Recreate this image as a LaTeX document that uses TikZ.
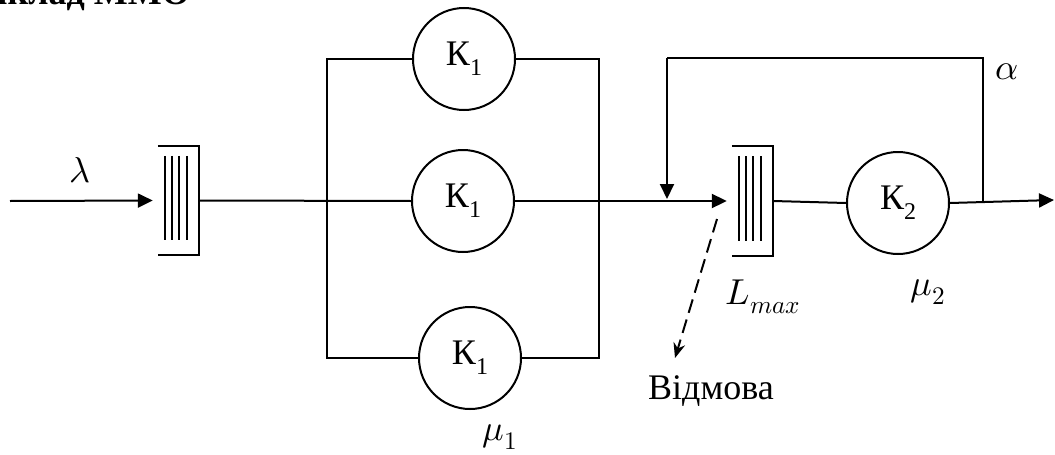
\documentclass[tikz,border=0pt]{standalone}
\usepackage{fontspec}
\usepackage{unicode-math}
\setmainfont{Liberation Serif}
\setmathfont{Latin Modern Math}
\usetikzlibrary{arrows.meta,calc}
\begin{document}
\begin{tikzpicture}[x=1pt,y=-1pt,
  every node/.style={font=\fontsize{36}{40}\selectfont},
  chan/.style={circle,draw,line width=2pt,minimum size=102pt,inner sep=0pt},
  queuebox/.style={minimum width=41pt,minimum height=109pt,inner sep=0pt},
  ln/.style={line width=2pt},
  arr/.style={line width=2pt,-{Triangle[length=15pt,width=14pt]}},
  lbl/.style={inner sep=0pt}]
\useasboundingbox (0,0) rectangle (1055,455);
% title (cut off at the top)
\begin{scope}
\clip (0,0) rectangle (1055,455);
\node[anchor=base east,inner sep=0pt,font=\fontsize{36}{40}\selectfont\bfseries] (title) at (190,5) {Приклад ММО};
\end{scope}
% queues
\node[queuebox] (q1) at (178.5,200.5) {};
\node[queuebox] (q2) at (752.5,201) {};
\foreach \q in {q1,q2}{
  \draw[ln] (\q.north west) -- (\q.north east) -- (\q.south east) -- (\q.south west);
  \foreach \dx in {7.5,14.5,21.5,29}{
    \draw[ln] ($(\q.north west)+(\dx,10)$) -- ($(\q.south west)+(\dx,-15)$);
  }
}
% channels
\node[chan] (k1top) at (464,59) {К\raisebox{-0.28em}{\fontsize{24}{26}\selectfont 1}};
\node[chan] (k1mid) at (463,201) {К\raisebox{-0.28em}{\fontsize{24}{26}\selectfont 1}};
\node[chan] (k1bot) at (470,358) {К\raisebox{-0.28em}{\fontsize{24}{26}\selectfont 1}};
\node[chan] (k2) at (898,203) {К\raisebox{-0.28em}{\fontsize{24}{26}\selectfont 2}};
% coordinates
\coordinate (in1) at (10,201);
\coordinate (rtl) at (327,59);
\coordinate (rbl) at (327,358);
\coordinate (rtr) at (599,59);
\coordinate (rbr) at (599,358);
\coordinate (fbR) at (983,201);
\coordinate (fbT) at (983,58);
\coordinate (fbL) at (667,58);
\coordinate (fbB) at (667,199);
\coordinate (out) at (1054,200);
\coordinate (d1) at (717,219);
\coordinate (d2) at (675,358);
% connectors
\draw[arr,shorten >=5pt] (in1) -- (q1.west);
\draw[ln] (q1.east) -- (k1mid.west);
\draw[arr,shorten >=5pt] (k1mid.east) -- (q2.west);
\draw[ln] (k1top.west) -- (rtl) -- (rbl) -- (k1bot.west);
\draw[ln] (k1top.east) -- (rtr) -- (rbr) -- (k1bot.east);
\draw[ln] (q2.east) -- (k2.west);
\draw[arr] (k2.east) -- (out);
\draw[ln] (fbR) -- (fbT) -- (fbL);
\draw[arr] (fbL) -- (fbB);
\draw[line width=2pt,dash pattern=on 14pt off 7pt,-{Stealth[length=15pt,width=12pt,inset=5pt]}] (d1) -- (d2);
% labels
\node[lbl] (lam) at (80,170) {$\lambda$};
\node[lbl] (alp) at (1007,72) {$\alpha$};
\node[lbl] (lmax) at (763,297) {$L_{max}$};
\node[lbl] (mu2) at (928,292) {$\mu_2$};
\node[lbl] (mu1) at (500,437) {$\mu_1$};
\node[lbl] (rej) at (711,391) {Відмова};
\end{tikzpicture}
\end{document}
